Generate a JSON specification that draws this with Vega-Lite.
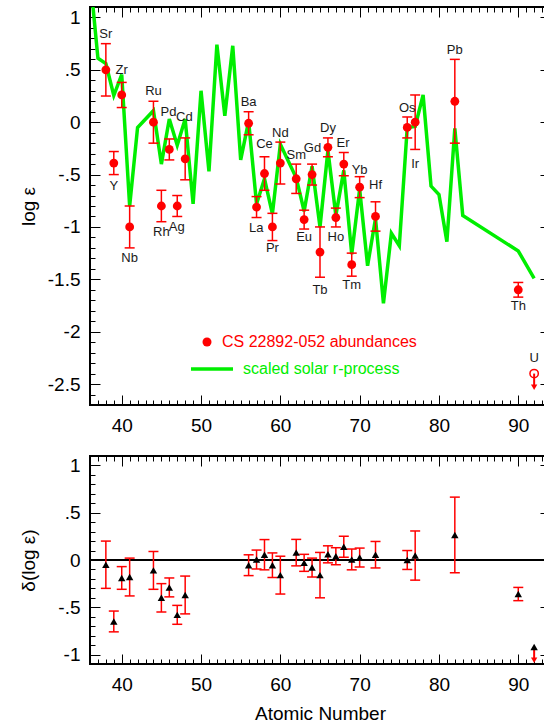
{
  "$schema": "https://vega.github.io/schema/vega-lite/v6.json",
  "padding": {"left": 18, "top": 5, "right": 0, "bottom": 0},
  "spacing": 18,
  "config": {
    "font": "Liberation Sans",
    "view": {"stroke": "black", "strokeWidth": 2},
    "axis": {"grid": false, "domain": false, "tickColor": "black"}
  },
  "datasets": {
    "solar": [
      {"Z": 36, "v": 1.40}, {"Z": 37, "v": 0.61}, {"Z": 38, "v": 0.56}, {"Z": 39, "v": 0.255}, {"Z": 40, "v": 0.455},
      {"Z": 41, "v": -0.80}, {"Z": 42, "v": -0.05}, {"Z": 44, "v": 0.11}, {"Z": 45, "v": -0.40}, {"Z": 46, "v": 0.03},
      {"Z": 47, "v": -0.22}, {"Z": 48, "v": 0.03}, {"Z": 49, "v": -0.78}, {"Z": 50, "v": 0.30}, {"Z": 51, "v": -0.47},
      {"Z": 52, "v": 0.74}, {"Z": 53, "v": 0.06}, {"Z": 54, "v": 0.73}, {"Z": 55, "v": -0.36}, {"Z": 56, "v": 0.01},
      {"Z": 57, "v": -0.78}, {"Z": 58, "v": -0.54}, {"Z": 59, "v": -0.875}, {"Z": 60, "v": -0.21}, {"Z": 62, "v": -0.53},
      {"Z": 63, "v": -0.85}, {"Z": 64, "v": -0.42}, {"Z": 65, "v": -1.00}, {"Z": 66, "v": -0.27}, {"Z": 67, "v": -0.89},
      {"Z": 68, "v": -0.46}, {"Z": 69, "v": -1.26}, {"Z": 70, "v": -0.64}, {"Z": 71, "v": -1.37}, {"Z": 72, "v": -0.92},
      {"Z": 73, "v": -1.73}, {"Z": 74, "v": -1.06}, {"Z": 75, "v": -1.18}, {"Z": 76, "v": -0.05}, {"Z": 77, "v": -0.04},
      {"Z": 78, "v": 0.26}, {"Z": 79, "v": -0.61}, {"Z": 80, "v": -0.69}, {"Z": 81, "v": -1.14}, {"Z": 82, "v": -0.06},
      {"Z": 83, "v": -0.89}, {"Z": 90, "v": -1.23}, {"Z": 92, "v": -1.49}
    ],
    "obs": [
      {"Z": 38, "el": "Sr", "v": 0.50, "lo": 0.25, "hi": 0.75, "lx": 38, "ly": 0.84},
      {"Z": 39, "el": "Y", "v": -0.39, "lo": -0.50, "hi": -0.28, "lx": 39, "ly": -0.61},
      {"Z": 40, "el": "Zr", "v": 0.26, "lo": 0.14, "hi": 0.38, "lx": 40, "ly": 0.50},
      {"Z": 41, "el": "Nb", "v": -1.00, "lo": -1.20, "hi": -0.80, "lx": 41, "ly": -1.30},
      {"Z": 44, "el": "Ru", "v": 0.00, "lo": -0.20, "hi": 0.20, "lx": 44, "ly": 0.30},
      {"Z": 45, "el": "Rh", "v": -0.80, "lo": -0.95, "hi": -0.65, "lx": 45, "ly": -1.05},
      {"Z": 46, "el": "Pd", "v": -0.26, "lo": -0.36, "hi": -0.16, "lx": 45.9, "ly": 0.095},
      {"Z": 47, "el": "Ag", "v": -0.80, "lo": -0.90, "hi": -0.70, "lx": 46.93, "ly": -1.00},
      {"Z": 48, "el": "Cd", "v": -0.35, "lo": -0.55, "hi": -0.15, "lx": 47.9, "ly": 0.05},
      {"Z": 56, "el": "Ba", "v": -0.01, "lo": -0.12, "hi": 0.10, "lx": 56, "ly": 0.19},
      {"Z": 57, "el": "La", "v": -0.81, "lo": -0.91, "hi": -0.71, "lx": 56.95, "ly": -1.01},
      {"Z": 58, "el": "Ce", "v": -0.49, "lo": -0.65, "hi": -0.33, "lx": 58, "ly": -0.21},
      {"Z": 59, "el": "Pr", "v": -1.00, "lo": -1.13, "hi": -0.87, "lx": 59, "ly": -1.20},
      {"Z": 60, "el": "Nd", "v": -0.39, "lo": -0.59, "hi": -0.19, "lx": 60, "ly": -0.105},
      {"Z": 62, "el": "Sm", "v": -0.54, "lo": -0.68, "hi": -0.40, "lx": 62, "ly": -0.31},
      {"Z": 63, "el": "Eu", "v": -0.93, "lo": -1.02, "hi": -0.84, "lx": 63, "ly": -1.10},
      {"Z": 64, "el": "Gd", "v": -0.50, "lo": -0.60, "hi": -0.40, "lx": 64.05, "ly": -0.25},
      {"Z": 65, "el": "Tb", "v": -1.24, "lo": -1.48, "hi": -1.00, "lx": 65, "ly": -1.60},
      {"Z": 66, "el": "Dy", "v": -0.24, "lo": -0.33, "hi": -0.15, "lx": 66, "ly": -0.06},
      {"Z": 67, "el": "Ho", "v": -0.91, "lo": -1.00, "hi": -0.82, "lx": 67, "ly": -1.10},
      {"Z": 68, "el": "Er", "v": -0.40, "lo": -0.51, "hi": -0.29, "lx": 67.9, "ly": -0.20},
      {"Z": 69, "el": "Tm", "v": -1.36, "lo": -1.47, "hi": -1.25, "lx": 69, "ly": -1.55},
      {"Z": 70, "el": "Yb", "v": -0.62, "lo": -0.72, "hi": -0.52, "lx": 70, "ly": -0.46},
      {"Z": 72, "el": "Hf", "v": -0.90, "lo": -1.04, "hi": -0.76, "lx": 72, "ly": -0.60},
      {"Z": 76, "el": "Os", "v": -0.05, "lo": -0.15, "hi": 0.05, "lx": 76, "ly": 0.14},
      {"Z": 77, "el": "Ir", "v": 0.00, "lo": -0.26, "hi": 0.26, "lx": 77, "ly": -0.40},
      {"Z": 82, "el": "Pb", "v": 0.20, "lo": -0.20, "hi": 0.60, "lx": 82, "ly": 0.69},
      {"Z": 90, "el": "Th", "v": -1.60, "lo": -1.67, "hi": -1.53, "lx": 90, "ly": -1.75}
    ],
    "uTop": [{"Z": 92, "el": "U", "v": -2.40, "lim": -2.53, "ly": -2.25}],
    "delta": [
      {"Z": 38, "d": -0.05, "lo": -0.30, "hi": 0.20}, {"Z": 39, "d": -0.65, "lo": -0.76, "hi": -0.54},
      {"Z": 40, "d": -0.19, "lo": -0.31, "hi": -0.07}, {"Z": 41, "d": -0.18, "lo": -0.38, "hi": 0.02},
      {"Z": 44, "d": -0.11, "lo": -0.31, "hi": 0.09}, {"Z": 45, "d": -0.40, "lo": -0.55, "hi": -0.25},
      {"Z": 46, "d": -0.29, "lo": -0.39, "hi": -0.19}, {"Z": 47, "d": -0.58, "lo": -0.68, "hi": -0.48},
      {"Z": 48, "d": -0.37, "lo": -0.57, "hi": -0.17}, {"Z": 56, "d": -0.055, "lo": -0.165, "hi": 0.055},
      {"Z": 57, "d": 0.005, "lo": -0.095, "hi": 0.105}, {"Z": 58, "d": 0.056, "lo": -0.104, "hi": 0.216},
      {"Z": 59, "d": -0.055, "lo": -0.185, "hi": 0.075}, {"Z": 60, "d": -0.16, "lo": -0.36, "hi": 0.04},
      {"Z": 62, "d": 0.078, "lo": -0.062, "hi": 0.218}, {"Z": 63, "d": -0.03, "lo": -0.12, "hi": 0.06},
      {"Z": 64, "d": -0.08, "lo": -0.18, "hi": 0.02}, {"Z": 65, "d": -0.16, "lo": -0.40, "hi": 0.08},
      {"Z": 66, "d": 0.06, "lo": -0.03, "hi": 0.15}, {"Z": 67, "d": 0.04, "lo": -0.05, "hi": 0.13},
      {"Z": 68, "d": 0.14, "lo": 0.03, "hi": 0.25}, {"Z": 69, "d": 0.006, "lo": -0.104, "hi": 0.116},
      {"Z": 70, "d": 0.026, "lo": -0.074, "hi": 0.126}, {"Z": 72, "d": 0.056, "lo": -0.084, "hi": 0.196},
      {"Z": 76, "d": 0.0, "lo": -0.10, "hi": 0.10}, {"Z": 77, "d": 0.047, "lo": -0.213, "hi": 0.307},
      {"Z": 82, "d": 0.265, "lo": -0.135, "hi": 0.665}, {"Z": 90, "d": -0.36, "lo": -0.43, "hi": -0.29}
    ],
    "uBot": [{"Z": 92, "d": -0.92, "lim": -1.06}],
    "zero": [{"y0": 0}]
  },
  "vconcat": [
    {
      "width": 460,
      "height": 398,
      "resolve": {"axis": {"x": "independent", "y": "independent"}},
      "layer": [
        {
          "data": {"name": "solar"},
          "mark": {"type": "line", "clip": true, "strokeWidth": 3.5, "strokeJoin": "miter"},
          "encoding": {
            "x": {"field": "Z", "type": "quantitative", "scale": {"domain": [36, 94], "nice": false, "zero": false},
                  "axis": {"orient": "bottom", "values": [40, 50, 60, 70, 80, 90], "ticks": false, "labelPadding": 11, "title": null,
                           "labelFont": "Liberation Sans", "labelFontSize": 19, "labelColor": "black", "labelOverlap": false, "labelFlush": false}},
            "y": {"field": "v", "type": "quantitative", "scale": {"domain": [-2.7, 1.1], "nice": false, "zero": false},
                  "axis": {"orient": "left", "values": [1, 0.5, 0, -0.5, -1, -1.5, -2, -2.5], "ticks": false, "labelPadding": 10,
                           "labelFont": "Liberation Sans", "labelFontSize": 19, "labelColor": "black", "labelOverlap": false,
                           "labelExpr": "replace('' + datum.value, '0.', '.')",
                           "title": "log ε", "titleFont": "Liberation Sans", "titleFontSize": 19, "titleFontWeight": "normal", "titleColor": "black",
                           "titleX": -62, "titleY": 199, "titleBaseline": "middle", "titleAlign": "center"}},
            "stroke": {"datum": "scaled solar r-process", "type": "nominal", "scale": {"domain": ["scaled solar r-process"], "range": ["#00ee00"]},
                       "legend": {"orient": "none", "legendX": 99, "legendY": 339, "title": null, "labelColor": "#00ee00", "labelFontSize": 16, "labelFont": "Liberation Sans", "labelLimit": 400, "symbolType": "stroke", "symbolSize": 1764, "symbolStrokeWidth": 3.5, "labelOffset": 8, "padding": 0}}
          }
        },
        {
          "data": {"name": "obs"},
          "mark": {"type": "point", "opacity": 0},
          "encoding": {
            "x": {"field": "Z", "type": "quantitative", "scale": {"domain": [36, 94], "nice": false, "zero": false},
                  "axis": {"orient": "bottom", "values": [40, 50, 60, 70, 80, 90], "ticks": true, "labels": false, "title": null, "tickSize": -10}},
            "y": {"field": "v", "type": "quantitative", "scale": {"domain": [-2.7, 1.1], "nice": false, "zero": false},
                  "axis": {"orient": "left", "values": [1, 0.5, 0, -0.5, -1, -1.5, -2, -2.5], "ticks": true, "labels": false, "title": null, "offset": -10, "tickSize": 10}}
          }
        },
        {
          "data": {"name": "obs"},
          "mark": {"type": "point", "opacity": 0},
          "encoding": {
            "x": {"field": "Z", "type": "quantitative", "scale": {"domain": [36, 94], "nice": false, "zero": false},
                  "axis": {"orient": "bottom", "values": [37,38,39,41,42,43,44,45,46,47,48,49,51,52,53,54,55,56,57,58,59,61,62,63,64,65,66,67,68,69,71,72,73,74,75,76,77,78,79,81,82,83,84,85,86,87,88,89,91,92,93],
                           "ticks": true, "labels": false, "title": null, "tickSize": -5}},
            "y": {"field": "v", "type": "quantitative", "scale": {"domain": [-2.7, 1.1], "nice": false, "zero": false},
                  "axis": {"orient": "left", "values": [-2.6,-2.4,-2.3,-2.2,-2.1,-1.9,-1.8,-1.7,-1.6,-1.4,-1.3,-1.2,-1.1,-0.9,-0.8,-0.7,-0.6,-0.4,-0.3,-0.2,-0.1,0.1,0.2,0.3,0.4,0.6,0.7,0.8,0.9],
                           "ticks": true, "labels": false, "title": null, "offset": -5, "tickSize": 5}}
          }
        },
        {
          "data": {"name": "obs"},
          "mark": {"type": "point", "opacity": 0},
          "encoding": {
            "x": {"field": "Z", "type": "quantitative", "scale": {"domain": [36, 94], "nice": false, "zero": false},
                  "axis": {"orient": "top", "values": [40, 50, 60, 70, 80, 90], "ticks": true, "labels": false, "title": null, "tickSize": -10}},
            "y": {"field": "v", "type": "quantitative", "scale": {"domain": [-2.7, 1.1], "nice": false, "zero": false},
                  "axis": {"orient": "right", "values": [1, 0.5, 0, -0.5, -1, -1.5, -2, -2.5], "ticks": true, "labels": false, "title": null, "tickSize": -10}}
          }
        },
        {
          "data": {"name": "obs"},
          "mark": {"type": "point", "opacity": 0},
          "encoding": {
            "x": {"field": "Z", "type": "quantitative", "scale": {"domain": [36, 94], "nice": false, "zero": false},
                  "axis": {"orient": "top", "values": [37,38,39,41,42,43,44,45,46,47,48,49,51,52,53,54,55,56,57,58,59,61,62,63,64,65,66,67,68,69,71,72,73,74,75,76,77,78,79,81,82,83,84,85,86,87,88,89,91,92,93],
                           "ticks": true, "labels": false, "title": null, "tickSize": -5}},
            "y": {"field": "v", "type": "quantitative", "scale": {"domain": [-2.7, 1.1], "nice": false, "zero": false},
                  "axis": {"orient": "right", "values": [-2.6,-2.4,-2.3,-2.2,-2.1,-1.9,-1.8,-1.7,-1.6,-1.4,-1.3,-1.2,-1.1,-0.9,-0.8,-0.7,-0.6,-0.4,-0.3,-0.2,-0.1,0.1,0.2,0.3,0.4,0.6,0.7,0.8,0.9],
                           "ticks": true, "labels": false, "title": null, "tickSize": -5}}
          }
        },
        {
          "data": {"name": "obs"},
          "mark": {"type": "rule", "color": "red", "strokeWidth": 1.5},
          "encoding": {
            "x": {"field": "Z", "type": "quantitative", "scale": {"domain": [36, 94], "nice": false, "zero": false}, "axis": null},
            "y": {"field": "lo", "type": "quantitative", "scale": {"domain": [-2.7, 1.1], "nice": false, "zero": false}, "axis": null},
            "y2": {"field": "hi"}
          }
        },
        {
          "data": {"name": "obs"},
          "mark": {"type": "tick", "orient": "horizontal", "color": "red", "size": 10, "thickness": 1.5, "opacity": 1},
          "encoding": {
            "x": {"field": "Z", "type": "quantitative", "scale": {"domain": [36, 94], "nice": false, "zero": false}, "axis": null},
            "y": {"field": "lo", "type": "quantitative", "scale": {"domain": [-2.7, 1.1], "nice": false, "zero": false}, "axis": null}
          }
        },
        {
          "data": {"name": "obs"},
          "mark": {"type": "tick", "orient": "horizontal", "color": "red", "size": 10, "thickness": 1.5, "opacity": 1},
          "encoding": {
            "x": {"field": "Z", "type": "quantitative", "scale": {"domain": [36, 94], "nice": false, "zero": false}, "axis": null},
            "y": {"field": "hi", "type": "quantitative", "scale": {"domain": [-2.7, 1.1], "nice": false, "zero": false}, "axis": null}
          }
        },
        {
          "data": {"name": "obs"},
          "mark": {"type": "point", "filled": true, "shape": "circle", "size": 78, "opacity": 1},
          "encoding": {
            "x": {"field": "Z", "type": "quantitative", "scale": {"domain": [36, 94], "nice": false, "zero": false}, "axis": null},
            "y": {"field": "v", "type": "quantitative", "scale": {"domain": [-2.7, 1.1], "nice": false, "zero": false}, "axis": null},
            "fill": {"datum": "CS 22892-052 abundances", "type": "nominal", "scale": {"domain": ["CS 22892-052 abundances"], "range": ["red"]},
                     "legend": {"orient": "none", "legendX": 109, "legendY": 327, "title": null, "labelColor": "red", "labelFontSize": 16, "labelFont": "Liberation Sans", "labelLimit": 400, "symbolType": "circle", "symbolSize": 81, "symbolStrokeWidth": 0, "labelOffset": 7, "padding": 0}}
          }
        },
        {
          "data": {"name": "obs"},
          "mark": {"type": "text", "fontSize": 13, "font": "Liberation Sans", "color": "#1a1a1a", "baseline": "middle", "align": "center"},
          "encoding": {
            "x": {"field": "lx", "type": "quantitative", "scale": {"domain": [36, 94], "nice": false, "zero": false}, "axis": null},
            "y": {"field": "ly", "type": "quantitative", "scale": {"domain": [-2.7, 1.1], "nice": false, "zero": false}, "axis": null},
            "text": {"field": "el"}
          }
        },
        {
          "data": {"name": "uTop"},
          "mark": {"type": "rule", "color": "red", "strokeWidth": 2},
          "encoding": {
            "x": {"field": "Z", "type": "quantitative", "scale": {"domain": [36, 94], "nice": false, "zero": false}, "axis": null},
            "y": {"field": "v", "type": "quantitative", "scale": {"domain": [-2.7, 1.1], "nice": false, "zero": false}, "axis": null},
            "y2": {"field": "lim"}
          }
        },
        {
          "data": {"name": "uTop"},
          "mark": {"type": "point", "filled": false, "shape": "circle", "size": 70, "color": "red", "strokeWidth": 1.5, "opacity": 1},
          "encoding": {
            "x": {"field": "Z", "type": "quantitative", "scale": {"domain": [36, 94], "nice": false, "zero": false}, "axis": null},
            "y": {"field": "v", "type": "quantitative", "scale": {"domain": [-2.7, 1.1], "nice": false, "zero": false}, "axis": null}
          }
        },
        {
          "data": {"name": "uTop"},
          "mark": {"type": "point", "filled": true, "shape": "triangle-down", "size": 40, "color": "red", "opacity": 1},
          "encoding": {
            "x": {"field": "Z", "type": "quantitative", "scale": {"domain": [36, 94], "nice": false, "zero": false}, "axis": null},
            "y": {"field": "lim", "type": "quantitative", "scale": {"domain": [-2.7, 1.1], "nice": false, "zero": false}, "axis": null}
          }
        },
        {
          "data": {"name": "uTop"},
          "mark": {"type": "text", "fontSize": 13, "font": "Liberation Sans", "color": "#1a1a1a", "baseline": "middle", "align": "center"},
          "encoding": {
            "x": {"field": "Z", "type": "quantitative", "scale": {"domain": [36, 94], "nice": false, "zero": false}, "axis": null},
            "y": {"field": "ly", "type": "quantitative", "scale": {"domain": [-2.7, 1.1], "nice": false, "zero": false}, "axis": null},
            "text": {"field": "el"}
          }
        }
      ]
    },
    {
      "width": 460,
      "height": 208,
      "resolve": {"axis": {"x": "independent", "y": "independent"}},
      "layer": [
        {
          "data": {"name": "delta"},
          "mark": {"type": "point", "opacity": 0},
          "encoding": {
            "x": {"field": "Z", "type": "quantitative", "scale": {"domain": [36, 94], "nice": false, "zero": false},
                  "axis": {"orient": "bottom", "values": [40, 50, 60, 70, 80, 90], "ticks": false, "labelPadding": 11,
                           "labelFont": "Liberation Sans", "labelFontSize": 19, "labelColor": "black", "labelOverlap": false, "labelFlush": false,
                           "title": "Atomic Number", "titleFont": "Liberation Sans", "titleFontSize": 19, "titleFontWeight": "normal", "titleColor": "black",
                           "titleY": 49, "titleBaseline": "middle"}},
            "y": {"field": "d", "type": "quantitative", "scale": {"domain": [-1.1, 1.1], "nice": false, "zero": false},
                  "axis": {"orient": "left", "values": [1, 0.5, 0, -0.5, -1], "ticks": false, "labelPadding": 10,
                           "labelFont": "Liberation Sans", "labelFontSize": 19, "labelColor": "black", "labelOverlap": false,
                           "labelExpr": "replace('' + datum.value, '0.', '.')",
                           "title": "δ(log ε)", "titleFont": "Liberation Sans", "titleFontSize": 19, "titleFontWeight": "normal", "titleColor": "black",
                           "titleX": -62, "titleY": 104, "titleBaseline": "middle", "titleAlign": "center"}}
          }
        },
        {
          "data": {"name": "delta"},
          "mark": {"type": "point", "opacity": 0},
          "encoding": {
            "x": {"field": "Z", "type": "quantitative", "scale": {"domain": [36, 94], "nice": false, "zero": false},
                  "axis": {"orient": "bottom", "values": [40, 50, 60, 70, 80, 90], "ticks": true, "labels": false, "title": null, "tickSize": -10}},
            "y": {"field": "d", "type": "quantitative", "scale": {"domain": [-1.1, 1.1], "nice": false, "zero": false},
                  "axis": {"orient": "left", "values": [1, 0.5, 0, -0.5, -1], "ticks": true, "labels": false, "title": null, "offset": -10, "tickSize": 10}}
          }
        },
        {
          "data": {"name": "delta"},
          "mark": {"type": "point", "opacity": 0},
          "encoding": {
            "x": {"field": "Z", "type": "quantitative", "scale": {"domain": [36, 94], "nice": false, "zero": false},
                  "axis": {"orient": "bottom", "values": [37,38,39,41,42,43,44,45,46,47,48,49,51,52,53,54,55,56,57,58,59,61,62,63,64,65,66,67,68,69,71,72,73,74,75,76,77,78,79,81,82,83,84,85,86,87,88,89,91,92,93],
                           "ticks": true, "labels": false, "title": null, "tickSize": -5}},
            "y": {"field": "d", "type": "quantitative", "scale": {"domain": [-1.1, 1.1], "nice": false, "zero": false},
                  "axis": {"orient": "left", "values": [-0.9,-0.8,-0.7,-0.6,-0.4,-0.3,-0.2,-0.1,0.1,0.2,0.3,0.4,0.6,0.7,0.8,0.9],
                           "ticks": true, "labels": false, "title": null, "offset": -5, "tickSize": 5}}
          }
        },
        {
          "data": {"name": "delta"},
          "mark": {"type": "point", "opacity": 0},
          "encoding": {
            "x": {"field": "Z", "type": "quantitative", "scale": {"domain": [36, 94], "nice": false, "zero": false},
                  "axis": {"orient": "top", "values": [40, 50, 60, 70, 80, 90], "ticks": true, "labels": false, "title": null, "tickSize": -10}},
            "y": {"field": "d", "type": "quantitative", "scale": {"domain": [-1.1, 1.1], "nice": false, "zero": false},
                  "axis": {"orient": "right", "values": [1, 0.5, 0, -0.5, -1], "ticks": true, "labels": false, "title": null, "tickSize": -10}}
          }
        },
        {
          "data": {"name": "delta"},
          "mark": {"type": "point", "opacity": 0},
          "encoding": {
            "x": {"field": "Z", "type": "quantitative", "scale": {"domain": [36, 94], "nice": false, "zero": false},
                  "axis": {"orient": "top", "values": [37,38,39,41,42,43,44,45,46,47,48,49,51,52,53,54,55,56,57,58,59,61,62,63,64,65,66,67,68,69,71,72,73,74,75,76,77,78,79,81,82,83,84,85,86,87,88,89,91,92,93],
                           "ticks": true, "labels": false, "title": null, "tickSize": -5}},
            "y": {"field": "d", "type": "quantitative", "scale": {"domain": [-1.1, 1.1], "nice": false, "zero": false},
                  "axis": {"orient": "right", "values": [-0.9,-0.8,-0.7,-0.6,-0.4,-0.3,-0.2,-0.1,0.1,0.2,0.3,0.4,0.6,0.7,0.8,0.9],
                           "ticks": true, "labels": false, "title": null, "tickSize": -5}}
          }
        },
        {
          "data": {"name": "zero"},
          "mark": {"type": "rule", "color": "black", "strokeWidth": 2},
          "encoding": {
            "y": {"field": "y0", "type": "quantitative", "scale": {"domain": [-1.1, 1.1], "nice": false, "zero": false}, "axis": null}
          }
        },
        {
          "data": {"name": "delta"},
          "mark": {"type": "rule", "color": "red", "strokeWidth": 1.5},
          "encoding": {
            "x": {"field": "Z", "type": "quantitative", "scale": {"domain": [36, 94], "nice": false, "zero": false}, "axis": null},
            "y": {"field": "lo", "type": "quantitative", "scale": {"domain": [-1.1, 1.1], "nice": false, "zero": false}, "axis": null},
            "y2": {"field": "hi"}
          }
        },
        {
          "data": {"name": "delta"},
          "mark": {"type": "tick", "orient": "horizontal", "color": "red", "size": 10, "thickness": 1.5, "opacity": 1},
          "encoding": {
            "x": {"field": "Z", "type": "quantitative", "scale": {"domain": [36, 94], "nice": false, "zero": false}, "axis": null},
            "y": {"field": "lo", "type": "quantitative", "scale": {"domain": [-1.1, 1.1], "nice": false, "zero": false}, "axis": null}
          }
        },
        {
          "data": {"name": "delta"},
          "mark": {"type": "tick", "orient": "horizontal", "color": "red", "size": 10, "thickness": 1.5, "opacity": 1},
          "encoding": {
            "x": {"field": "Z", "type": "quantitative", "scale": {"domain": [36, 94], "nice": false, "zero": false}, "axis": null},
            "y": {"field": "hi", "type": "quantitative", "scale": {"domain": [-1.1, 1.1], "nice": false, "zero": false}, "axis": null}
          }
        },
        {
          "data": {"name": "delta"},
          "mark": {"type": "point", "filled": true, "shape": "triangle-up", "size": 55, "color": "black", "opacity": 1},
          "encoding": {
            "x": {"field": "Z", "type": "quantitative", "scale": {"domain": [36, 94], "nice": false, "zero": false}, "axis": null},
            "y": {"field": "d", "type": "quantitative", "scale": {"domain": [-1.1, 1.1], "nice": false, "zero": false}, "axis": null}
          }
        },
        {
          "data": {"name": "uBot"},
          "mark": {"type": "rule", "color": "red", "strokeWidth": 2},
          "encoding": {
            "x": {"field": "Z", "type": "quantitative", "scale": {"domain": [36, 94], "nice": false, "zero": false}, "axis": null},
            "y": {"field": "d", "type": "quantitative", "scale": {"domain": [-1.1, 1.1], "nice": false, "zero": false}, "axis": null},
            "y2": {"field": "lim"}
          }
        },
        {
          "data": {"name": "uBot"},
          "mark": {"type": "point", "filled": true, "shape": "triangle-down", "size": 40, "color": "red", "opacity": 1},
          "encoding": {
            "x": {"field": "Z", "type": "quantitative", "scale": {"domain": [36, 94], "nice": false, "zero": false}, "axis": null},
            "y": {"field": "lim", "type": "quantitative", "scale": {"domain": [-1.1, 1.1], "nice": false, "zero": false}, "axis": null}
          }
        },
        {
          "data": {"name": "uBot"},
          "mark": {"type": "point", "filled": true, "shape": "triangle-up", "size": 55, "color": "black", "opacity": 1},
          "encoding": {
            "x": {"field": "Z", "type": "quantitative", "scale": {"domain": [36, 94], "nice": false, "zero": false}, "axis": null},
            "y": {"field": "d", "type": "quantitative", "scale": {"domain": [-1.1, 1.1], "nice": false, "zero": false}, "axis": null}
          }
        }
      ]
    }
  ]
}
